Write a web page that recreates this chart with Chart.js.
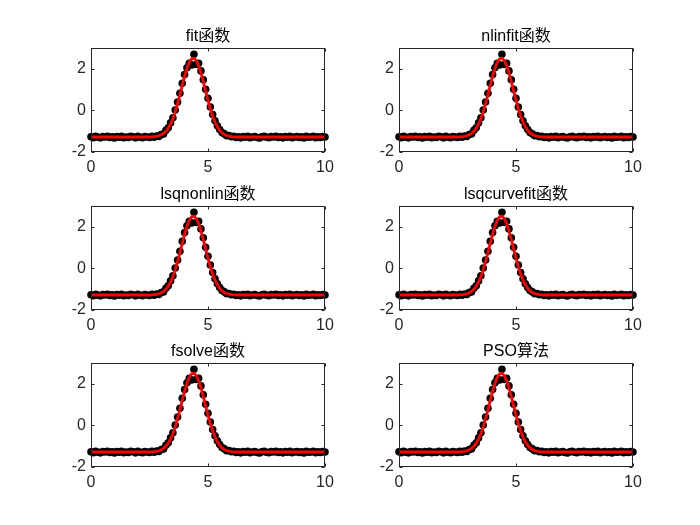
<!DOCTYPE html>
<html>
<head>
<meta charset="utf-8">
<script src="https://cdn.jsdelivr.net/npm/chart.js@4.4.1/dist/chart.umd.min.js"></script>
<style>
  html, body { margin: 0; padding: 0; background: #fff; }
  #fig { position: relative; width: 700px; height: 525px; background: #fff; }
  .ax { position: absolute; }
</style>
</head>
<body>
<div id="fig"></div>
<script>
// subplot titles, in MATLAB order (row by row)
const titles = ['fit函数', 'nlinfit函数', 'lsqnonlin函数', 'lsqcurvefit函数', 'fsolve函数', 'PSO算法'];

const xTicks = [0, 5, 10];
const yTicks = [-2, 0, 2];

// sample positions
const xData = [
  0.0, 0.1, 0.2, 0.3, 0.4, 0.5, 0.6, 0.7, 0.8, 0.9,
  1.0, 1.1, 1.2, 1.3, 1.4, 1.5, 1.6, 1.7, 1.8, 1.9,
  2.0, 2.1, 2.2, 2.3, 2.4, 2.5, 2.6, 2.7, 2.8, 2.9,
  3.0, 3.1, 3.2, 3.3, 3.4, 3.5, 3.6, 3.7, 3.8, 3.9,
  4.0, 4.1, 4.2, 4.3, 4.4, 4.5, 4.6, 4.7, 4.8, 4.9,
  5.0, 5.1, 5.2, 5.3, 5.4, 5.5, 5.6, 5.7, 5.8, 5.9,
  6.0, 6.1, 6.2, 6.3, 6.4, 6.5, 6.6, 6.7, 6.8, 6.9,
  7.0, 7.1, 7.2, 7.3, 7.4, 7.5, 7.6, 7.7, 7.8, 7.9,
  8.0, 8.1, 8.2, 8.3, 8.4, 8.5, 8.6, 8.7, 8.8, 8.9,
  9.0, 9.1, 9.2, 9.3, 9.4, 9.5, 9.6, 9.7, 9.8, 9.9, 10.0
];

// measured points (black dots)
const yData = [
  -1.27, -1.31, -1.25, -1.29, -1.32, -1.26, -1.28, -1.24, -1.30, -1.27,
  -1.33, -1.26, -1.29, -1.25, -1.31, -1.28, -1.30, -1.24, -1.27, -1.32,
  -1.25, -1.29, -1.31, -1.26, -1.28, -1.30, -1.25, -1.29, -1.23, -1.25,
  -1.16, -1.13, -0.96, -0.84, -0.60, -0.35, 0.02, 0.40, 0.82, 1.30,
  1.72, 2.05, 2.26, 2.18, 2.70, 2.21, 2.27, 1.90, 1.47, 1.02,
  0.58, 0.16, -0.20, -0.50, -0.74, -0.92, -1.06, -1.13, -1.22, -1.21,
  -1.27, -1.24, -1.30, -1.27, -1.32, -1.26, -1.29, -1.25, -1.31, -1.28,
  -1.26, -1.30, -1.33, -1.27, -1.25, -1.29, -1.31, -1.26, -1.28, -1.24,
  -1.30, -1.27, -1.32, -1.26, -1.29, -1.25, -1.31, -1.28, -1.26, -1.30,
  -1.27, -1.33, -1.25, -1.29, -1.28, -1.24, -1.31, -1.27, -1.30, -1.26, -1.28
];

// fitted curve (red line), same for every method
const yFit = [
  -1.28, -1.28, -1.28, -1.28, -1.28, -1.28, -1.28, -1.28, -1.28, -1.28,
  -1.28, -1.28, -1.28, -1.28, -1.28, -1.28, -1.28, -1.28, -1.28, -1.28,
  -1.28, -1.28, -1.28, -1.28, -1.28, -1.28, -1.27, -1.26, -1.25, -1.22,
  -1.18, -1.11, -1.01, -0.86, -0.66, -0.40, -0.07, 0.32, 0.75, 1.20,
  1.64, 2.02, 2.31, 2.48, 2.51, 2.40, 2.15, 1.80, 1.38, 0.93,
  0.49, 0.08, -0.27, -0.56, -0.79, -0.96, -1.08, -1.16, -1.21, -1.24,
  -1.26, -1.27, -1.28, -1.28, -1.28, -1.28, -1.28, -1.28, -1.28, -1.28,
  -1.28, -1.28, -1.28, -1.28, -1.28, -1.28, -1.28, -1.28, -1.28, -1.28,
  -1.28, -1.28, -1.28, -1.28, -1.28, -1.28, -1.28, -1.28, -1.28, -1.28,
  -1.28, -1.28, -1.28, -1.28, -1.28, -1.28, -1.28, -1.28, -1.28, -1.28, -1.28
];

// axes placement in the figure (px)
const colLeft = [91, 399];
const rowTop = [48, 205.5, 363];
const axW = 234, axH = 104.5;
const padL = 50, padT = 30, padR = 50, padB = 35;

const FONT = '"Liberation Sans", Arial, "Noto Sans CJK SC", sans-serif';
const AXCOL = '#262626';

// box + inward ticks like MATLAB
const boxPlugin = {
  id: 'box',
  afterDatasetsDraw(chart) {
    const { ctx, chartArea: a, scales } = chart;
    const L = Math.round(a.left) + 0.5, R = Math.round(a.right) - 0.5;
    const T = Math.round(a.top) + 0.5, B = Math.round(a.bottom) - 0.5;
    ctx.save();
    ctx.strokeStyle = AXCOL;
    ctx.lineWidth = 1;
    ctx.strokeRect(L, T, R - L, B - T);
    ctx.beginPath();
    xTicks.forEach(v => {
      const px = Math.round(scales.x.getPixelForValue(v)) + 0.5;
      ctx.moveTo(px, B); ctx.lineTo(px, B - 3);
      ctx.moveTo(px, T); ctx.lineTo(px, T + 3);
    });
    yTicks.forEach(v => {
      const py = Math.round(scales.y.getPixelForValue(v)) + 0.5;
      ctx.moveTo(L, py); ctx.lineTo(L + 3, py);
      ctx.moveTo(R, py); ctx.lineTo(R - 3, py);
    });
    ctx.stroke();
    ctx.restore();
  }
};

const fig = document.getElementById('fig');

titles.forEach((title, i) => {
  const col = i % 2, row = Math.floor(i / 2);
  const div = document.createElement('div');
  div.className = 'ax';
  const w = axW + padL + padR, h = axH + padT + padB;
  div.style.left = (colLeft[col] - padL) + 'px';
  div.style.top = (rowTop[row] - padT) + 'px';
  div.style.width = w + 'px';
  div.style.height = h + 'px';
  const cv = document.createElement('canvas');
  cv.width = w; cv.height = h;
  div.appendChild(cv);
  fig.appendChild(div);

  new Chart(cv.getContext('2d'), {
    type: 'scatter',
    data: {
      datasets: [
        {
          type: 'line',
          data: xData.map((x, k) => ({ x: x, y: yFit[k] })),
          borderColor: '#ff0000',
          borderWidth: 2.8,
          pointRadius: 0,
          fill: false,
          tension: 0,
          order: 0
        },
        {
          data: xData.map((x, k) => ({ x: x, y: yData[k] })),
          backgroundColor: '#000000',
          borderColor: '#000000',
          borderWidth: 0,
          pointRadius: 3.8,
          clip: false,
          order: 1
        }
      ]
    },
    options: {
      responsive: false,
      animation: false,
      devicePixelRatio: 1,
      layout: { padding: 0 },
      plugins: {
        legend: { display: false },
        tooltip: { enabled: false },
        title: {
          display: true,
          text: title,
          color: '#000000',
          font: { family: FONT, size: 16, weight: 'normal' },
          padding: { top: 9, bottom: 1.8 }
        }
      },
      scales: {
        x: {
          type: 'linear',
          min: 0, max: 10,
          afterBuildTicks: s => { s.ticks = xTicks.map(v => ({ value: v })); },
          afterFit: s => { s.height = padB; },
          grid: { display: false, drawTicks: false },
          border: { display: false },
          ticks: { color: AXCOL, font: { family: FONT, size: 16 }, padding: 6, maxRotation: 0, autoSkip: false }
        },
        y: {
          type: 'linear',
          min: -2, max: 3,
          afterBuildTicks: s => { s.ticks = yTicks.map(v => ({ value: v })); },
          afterFit: s => { s.width = padL; },
          grid: { display: false, drawTicks: false },
          border: { display: false },
          ticks: { color: AXCOL, font: { family: FONT, size: 16 }, padding: 5, autoSkip: false }
        },
        // empty right-hand axis so the title centres over the box
        yRight: {
          type: 'linear',
          position: 'right',
          afterFit: s => { s.width = padR; },
          grid: { display: false, drawTicks: false },
          border: { display: false },
          ticks: { display: false }
        }
      }
    },
    plugins: [boxPlugin]
  });
});
</script>
</body>
</html>
